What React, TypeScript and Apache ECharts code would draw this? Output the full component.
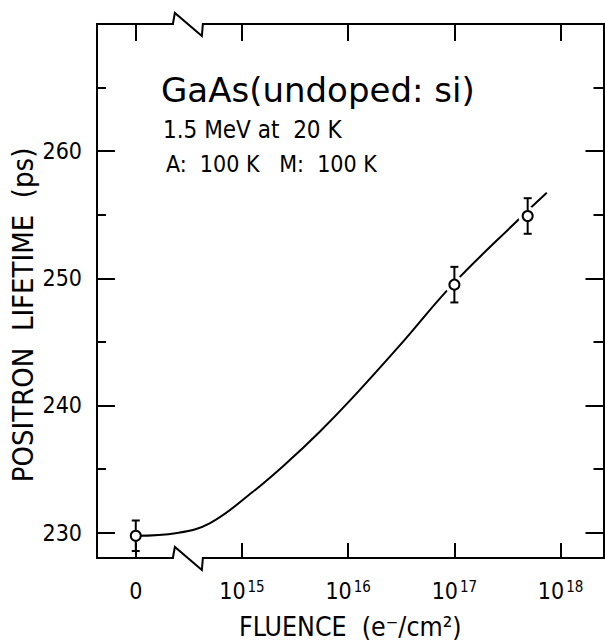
import React, { useEffect, useRef } from "react";
import * as echarts from "echarts";

const FONT = '"DejaVu Sans Condensed", "DejaVu Sans", sans-serif';
const FONT_WIDE = '"DejaVu Sans", sans-serif';

// x is log10(fluence); the "0" fluence point sits in the 10^14 slot (left of the axis break)
const xTickValues = [14, 15, 16, 17, 18];
const xTickExponents = [0, 15, 16, 17, 18]; // 0 -> label "0"
const yMajorTicks = [230, 240, 250, 260, 270];
const yMinorTicks = [235, 245, 255, 265];
const yLabelValues = [230, 240, 250, 260];

const pointX = [14, 17.0, 17.69];
const pointY = [229.75, 249.5, 254.9];
const pointErr = [1.2, 1.4, 1.4];

const curveX = [14.0, 14.39, 14.7, 15.1, 15.42, 15.73, 16.04, 16.49, 16.98, 17.59, 17.87];
const curveY = [229.75, 229.97, 230.75, 233.19, 235.47, 237.91, 240.59, 244.76, 249.48, 254.51, 256.72];

const X_MIN = 13.635;
const X_MAX = 18.404;
const Y_MIN = 228;
const Y_MAX = 270;
const X_BREAK = 14.5;

export default function App() {
  const ref = useRef<HTMLDivElement>(null);
  useEffect(() => {
    if (!ref.current) return;
    const chart = echarts.init(ref.current, undefined, { renderer: "svg" });
    const black = "#000";
    const axisLine = { show: true, lineStyle: { color: black, width: 2 } };
    const tick = (vals: number[], len: number) => ({
      show: true,
      inside: true,
      length: len,
      customValues: vals,
      lineStyle: { color: black, width: 2 },
    });
    const common = { type: "value", splitLine: { show: false }, min: X_MIN, max: X_MAX };
    const commonY = { type: "value", splitLine: { show: false }, min: Y_MIN, max: Y_MAX };

    const option: any = {
      animation: false,
      backgroundColor: "#fff",
      grid: { left: 97, top: 24, right: 1.5, bottom: 86, containLabel: false, outerBoundsMode: "none" },
      xAxis: [
        {
          ...common,
          position: "bottom",
          axisLine,
          axisTick: tick(xTickValues, 15),
          axisLabel: {
            show: true,
            customValues: xTickValues,
            margin: 21,
            formatter: (v: number) => {
              const i = xTickValues.indexOf(v);
              const e = i >= 0 ? xTickExponents[i] : 0;
              return e === 0 ? "{b|0}" : "{b|10}{s|" + e + "}";
            },
            rich: {
              b: { fontSize: 23, fontFamily: FONT, color: black },
              s: { fontSize: 15, fontFamily: FONT, color: black, verticalAlign: "top", padding: [0, 0, 0, 2] },
            },
          },
          name: "FLUENCE  (e\u207B/cm\u00B2)",
          nameLocation: "middle",
          nameGap: 55,
          nameTextStyle: { fontSize: 26.5, fontFamily: FONT, color: black },
        },
        {
          ...common,
          position: "top",
          axisLine,
          axisTick: tick(xTickValues, 17),
          axisLabel: { show: false },
        },
      ],
      yAxis: [
        {
          ...commonY,
          position: "left",
          axisLine,
          axisTick: tick(yMajorTicks, 18),
          axisLabel: {
            show: true,
            customValues: yLabelValues,
            margin: 15,
            fontSize: 23,
            fontFamily: FONT,
            color: black,
          },
        },
        { ...commonY, position: "left", axisLine, axisTick: tick(yMinorTicks, 9), axisLabel: { show: false } },
        { ...commonY, position: "right", axisLine, axisTick: tick(yMajorTicks, 18), axisLabel: { show: false } },
        { ...commonY, position: "right", axisLine, axisTick: tick(yMinorTicks, 10), axisLabel: { show: false } },
      ],
      series: [
        {
          type: "line",
          data: curveX.map((x, i) => [x, curveY[i]]),
          smooth: 0.4,
          symbol: "none",
          lineStyle: { color: black, width: 2 },
          z: 2,
        },
        {
          type: "scatter",
          data: pointX.slice(1).map((x, i) => [x, pointY[i + 1]]),
          symbol: "circle",
          symbolSize: 19,
          itemStyle: { color: "#fff", borderWidth: 0, opacity: 1 },
          z: 3,
        },
        {
          type: "custom",
          data: pointX.map((x, i) => [x, pointY[i], pointErr[i]]),
          renderItem: (_p: any, api: any) => {
            const x = api.value(0);
            const y = api.value(1);
            const e = api.value(2);
            const t = api.coord([x, y + e]);
            const b = api.coord([x, y - e]);
            const hw = 4;
            const st = { stroke: black, lineWidth: 2 };
            return {
              type: "group",
              children: [
                { type: "line", shape: { x1: t[0], y1: t[1], x2: b[0], y2: b[1] }, style: st },
                { type: "line", shape: { x1: t[0] - hw, y1: t[1], x2: t[0] + hw, y2: t[1] }, style: st },
                { type: "line", shape: { x1: b[0] - hw, y1: b[1], x2: b[0] + hw, y2: b[1] }, style: st },
              ],
            };
          },
          z: 4,
        },
        {
          type: "scatter",
          data: pointX.map((x, i) => [x, pointY[i]]),
          symbol: "circle",
          symbolSize: 10,
          itemStyle: { color: "#fff", borderColor: black, borderWidth: 2, opacity: 1 },
          z: 5,
        },
      ],
      graphic: [
        {
          type: "text",
          left: 161,
          top: 73,
          style: { text: "GaAs(undoped: si)", fontSize: 34, fontFamily: FONT_WIDE, fill: black },
        },
        {
          type: "text",
          left: 163,
          top: 118,
          style: { text: "1.5 MeV at  20 K", fontSize: 24, fontFamily: FONT, fill: black },
        },
        {
          type: "text",
          left: 166,
          top: 152,
          style: { text: "A:  100 K   M:  100 K", fontSize: 23, fontFamily: FONT, fill: black },
        },
      ],
    };
    chart.setOption(option);

    const pTop = chart.convertToPixel({ xAxisIndex: 0, yAxisIndex: 0 }, [X_BREAK, Y_MAX]) as number[];
    const pBot = chart.convertToPixel({ xAxisIndex: 0, yAxisIndex: 0 }, [X_BREAK, Y_MIN]) as number[];
    const breakEls = (p: number[]) => {
      const xc = p[0];
      const y = p[1];
      return [
        { type: "rect", shape: { x: xc - 15, y: y - 3, width: 29, height: 6 }, style: { fill: "#fff" }, z: 100 },
        {
          type: "polyline",
          shape: { points: [[xc - 16, y], [xc - 14, y - 11], [xc + 13, y + 12], [xc + 14, y], [xc + 15, y]] },
          style: { stroke: black, lineWidth: 2, fill: "none" },
          z: 101,
        },
      ];
    };
    chart.setOption({
      graphic: [
        ...option.graphic,
        ...breakEls(pTop),
        ...breakEls(pBot),
        {
          type: "text",
          x: 23,
          y: 315,
          rotation: Math.PI / 2,
          style: {
            text: "POSITRON  LIFETIME  (ps)",
            fontSize: 29,
            fontFamily: FONT,
            fill: black,
            align: "center",
            verticalAlign: "middle",
          },
        },
      ],
    });

    return () => chart.dispose();
  }, []);
  return (
    <div
      ref={ref}
      style={{ position: "absolute", left: 0, top: 0, width: 605, height: 644, background: "#fff" }}
    />
  );
}
